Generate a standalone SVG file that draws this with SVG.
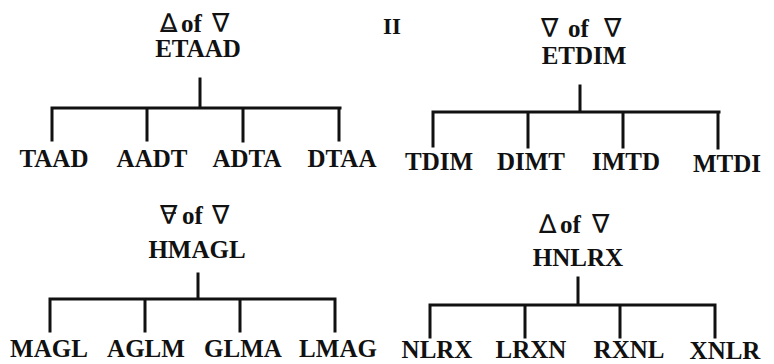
<svg xmlns="http://www.w3.org/2000/svg" width="774" height="364" viewBox="0 0 774 364">
  <style>
    .lbl { font-family: "Liberation Serif", "Times New Roman", serif; font-weight: bold; font-size: 25px; fill: #111; text-anchor: middle; }
    .of { font-family: "Liberation Serif", "Times New Roman", serif; font-weight: bold; font-size: 25px; fill: #111; }
    .sym { font-family: "DejaVu Sans", sans-serif; font-size: 26px; fill: #111; }
    .num { font-family: "Liberation Serif", "Times New Roman", serif; font-weight: bold; font-size: 23px; fill: #111; text-anchor: middle; }
    .wire { stroke: #111; stroke-width: 3; fill: none; stroke-linecap: square; }
    .bar { stroke: #111; stroke-width: 1.6; }
  </style>
  <rect width="774" height="364" fill="#fff"/>

  <text class="num" x="392" y="34">II</text>

  <!-- tree 1: ETAAD -->
  <g id="etaad">
    <text class="sym" x="160" y="32">∆</text>
    <line class="bar" x1="164" y1="28" x2="175" y2="28"/>
    <text class="of" x="181" y="32">of</text>
    <text class="sym" x="212" y="32">∇</text>
    <text class="lbl" x="198" y="57">ETAAD</text>
  </g>
  <g id="taad"><text class="lbl" x="54" y="167">TAAD</text></g>
  <g id="aadt"><text class="lbl" x="152" y="167">AADT</text></g>
  <g id="adta"><text class="lbl" x="247" y="167">ADTA</text></g>
  <g id="dtaa"><text class="lbl" x="342" y="167">DTAA</text></g>

  <!-- tree 2: ETDIM -->
  <g id="etdim">
    <text class="sym" x="541" y="37">∇</text>
    <text class="of" x="568" y="37">of</text>
    <text class="sym" x="604" y="37">∇</text>
    <text class="lbl" x="584" y="64">ETDIM</text>
  </g>
  <g id="tdim"><text class="lbl" x="439" y="170">TDIM</text></g>
  <g id="dimt"><text class="lbl" x="531" y="170">DIMT</text></g>
  <g id="imtd"><text class="lbl" x="626" y="170">IMTD</text></g>
  <g id="mtdi"><text class="lbl" x="727" y="172">MTDI</text></g>

  <!-- tree 3: HMAGL -->
  <g id="hmagl">
    <text class="sym" x="160" y="224">∇</text>
    <line class="bar" x1="163" y1="213" x2="176" y2="213"/>
    <text class="of" x="182" y="224">of</text>
    <text class="sym" x="212" y="224">∇</text>
    <text class="lbl" x="197" y="258">HMAGL</text>
  </g>
  <g id="magl"><text class="lbl" x="49" y="357">MAGL</text></g>
  <g id="aglm"><text class="lbl" x="146" y="357">AGLM</text></g>
  <g id="glma"><text class="lbl" x="243" y="357">GLMA</text></g>
  <g id="lmag"><text class="lbl" x="338" y="357">LMAG</text></g>

  <!-- tree 4: HNLRX -->
  <g id="hnlrx">
    <text class="sym" x="539" y="233">∆</text>
    <text class="of" x="560" y="233">of</text>
    <text class="sym" x="592" y="233">∇</text>
    <text class="lbl" x="578" y="266">HNLRX</text>
  </g>
  <g id="nlrx"><text class="lbl" x="437" y="358">NLRX</text></g>
  <g id="lrxn"><text class="lbl" x="531" y="358">LRXN</text></g>
  <g id="rxnl"><text class="lbl" x="629" y="358">RXNL</text></g>
  <g id="xnlr"><text class="lbl" x="725" y="359">XNLR</text></g>

  <!-- connectors -->
  <g id="connectors">
    <path class="wire" d="M200 79 V108 M52 108 H340 M52 108 V140 M147 108 V140 M243 108 V141 M339 108 V140"/>
    <path class="wire" d="M580 86 V112 M433 112 H719 M433 112 V146 M528 112 V147 M623 112 V147 M718 112 V148"/>
    <path class="wire" d="M198 274 V299 M50 299 H335 M50 299 V331 M145 299 V331 M240 299 V331 M335 299 V331"/>
    <path class="wire" d="M578 278 V305 M430 305 H715 M430 305 V337 M525 305 V337 M620 305 V337 M715 305 V337"/>
  </g>
</svg>
